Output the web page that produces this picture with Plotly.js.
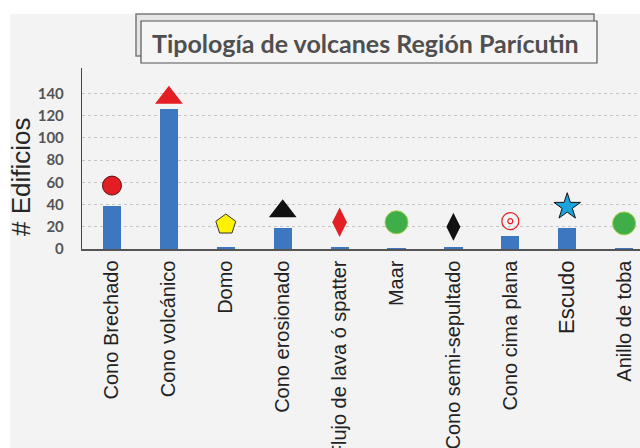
<!DOCTYPE html>
<html>
<head>
<meta charset="utf-8">
<script src="https://cdn.plot.ly/plotly-3.0.1.min.js"></script>
<style>html,body{margin:0;padding:0;background:#fff;}#chart{width:640px;height:448px;}</style>
</head>
<body>
<div id="chart"></div>
<script>
// ---- data ----
const categories = ["Cono Brechado", "Cono volcánico", "Domo", "Cono erosionado", "Flujo de lava ó spatter", "Maar", "Cono semi-sepultado", "Cono cima plana", "Escudo", "Anillo de toba"];
const counts = [39, 126, 2, 19, 2, 1, 2, 12, 19, 1];
const symbolLevels = [57, 136, 22, 34, 24, 24, 20, 25, 38, 23];
const yTickVals = [0, 20, 40, 60, 80, 100, 120, 140];
const titleText = "Tipología de volcanes Región Parícutin";
const yTitleText = "# Edificios";

// ---- styles ----
const symStyle = [
  {s: "circle", c: "#e31e24", lc: "#5a1010", lw: 1, sz: 19},
  {s: "triangle-up", c: "#e31e24", lc: "#e31e24", lw: 0, sz: 24},
  {s: "pentagon", c: "#fff200", lc: "#333333", lw: 1, sz: 21},
  {s: "triangle-up", c: "#111111", lc: "#111111", lw: 0, sz: 24},
  {s: "diamond-tall", c: "#e31e24", lc: "#e31e24", lw: 0, sz: 21},
  {s: "circle", c: "#3fae49", lc: "#a8cf45", lw: 1, sz: 23},
  {s: "diamond-tall", c: "#111111", lc: "#111111", lw: 0, sz: 20},
  {s: "circle-open", c: "#e31e24", lc: "#e31e24", lw: 1.2, sz: 17},
  {s: "star", c: "#1aa3dd", lc: "#111111", lw: 1, sz: 20},
  {s: "circle", c: "#3fae49", lc: "#a8cf45", lw: 1, sz: 23}
];
const xIdx = categories.map((_, i) => i);
const tickText = categories.map(c => c === "Escudo" ? '<span style="font-size:22px">' + c + '</span>' : c);

// pixel helpers (plot area: x 82..640, y 68..249)
const L = 82, R = 640, T = 68, B = 249;
const px = x => (x - L) / (R - L);
const py = y => (B - y) / (B - T);

const bars = {
  type: "bar", x: xIdx, y: counts, width: 0.32,
  marker: {color: "#3c77bf"}, hoverinfo: "x+y", showlegend: false
};
const syms = {
  type: "scatter", mode: "markers", x: xIdx, y: symbolLevels, showlegend: false,
  marker: {
    symbol: symStyle.map(d => d.s), color: symStyle.map(d => d.c),
    size: symStyle.map(d => d.sz), opacity: 1,
    line: {color: symStyle.map(d => d.lc), width: symStyle.map(d => d.lw)}
  }
};
const inner = {
  type: "scatter", mode: "markers", x: [7], y: [symbolLevels[7]], showlegend: false,
  marker: {symbol: "circle-open", size: 5, color: "#e31e24", opacity: 1, line: {width: 1.2, color: "#e31e24"}}
};

const layout = {
  width: 640, height: 448, autosize: false,
  margin: {l: L, r: 640 - R, t: T, b: 448 - B, pad: 0},
  paper_bgcolor: "#ffffff", plot_bgcolor: "rgba(0,0,0,0)",
  bargap: 0,
  xaxis: {
    type: "linear", range: [-0.527, 9.279], tickmode: "array", tickvals: xIdx, ticktext: tickText,
    tickangle: -90, showgrid: false, zeroline: false, showline: true, linecolor: "#555555", linewidth: 1.5,
    ticks: "", ticklabelstandoff: 2,
    tickfont: {family: "Liberation Sans, Arial, sans-serif", size: 20, color: "#222222"}
  },
  yaxis: {
    range: [0, 162.7], tickmode: "array", tickvals: yTickVals, ticktext: yTickVals.map(String),
    showgrid: true, gridcolor: "#c6c6c6", griddash: "dot", gridwidth: 1,
    zeroline: false, showline: true, linecolor: "#444444", linewidth: 1.2,
    ticks: "", ticklabelstandoff: 14,
    tickfont: {family: "Lato, Liberation Sans, sans-serif", size: 15, color: "#555555", weight: "bold"}
  },
  shapes: [
    {type: "rect", xref: "paper", yref: "paper", x0: px(10), x1: px(640), y0: py(448), y1: py(14),
     fillcolor: "#f3f3f3", line: {width: 0}, layer: "below"},
    {type: "rect", xref: "paper", yref: "paper", x0: px(136), x1: px(594), y0: py(56), y1: py(14),
     fillcolor: "#e6e6e6", line: {width: 1.5, color: "#7a7a7a"}, layer: "above"},
    {type: "rect", xref: "paper", yref: "paper", x0: px(141), x1: px(597), y0: py(63), y1: py(21),
     fillcolor: "#f5f5f5", line: {width: 1.2, color: "#555555"}, layer: "above"}
  ],
  annotations: [
    {text: "<b>" + titleText + "</b>", xref: "paper", yref: "paper", x: px(365), y: py(43),
     xanchor: "center", yanchor: "middle", showarrow: false,
     font: {family: "Lato, Liberation Sans, sans-serif", size: 25, color: "#4f4f4f"}},
    {text: yTitleText, xref: "paper", yref: "paper", x: px(21), y: py(177), textangle: -90,
     xanchor: "center", yanchor: "middle", showarrow: false,
     font: {family: "Liberation Sans, Arial, sans-serif", size: 26, color: "#262626"}}
  ]
};

Plotly.newPlot("chart", [bars, syms, inner], layout, {displayModeBar: false, staticPlot: true});
</script>
</body>
</html>
